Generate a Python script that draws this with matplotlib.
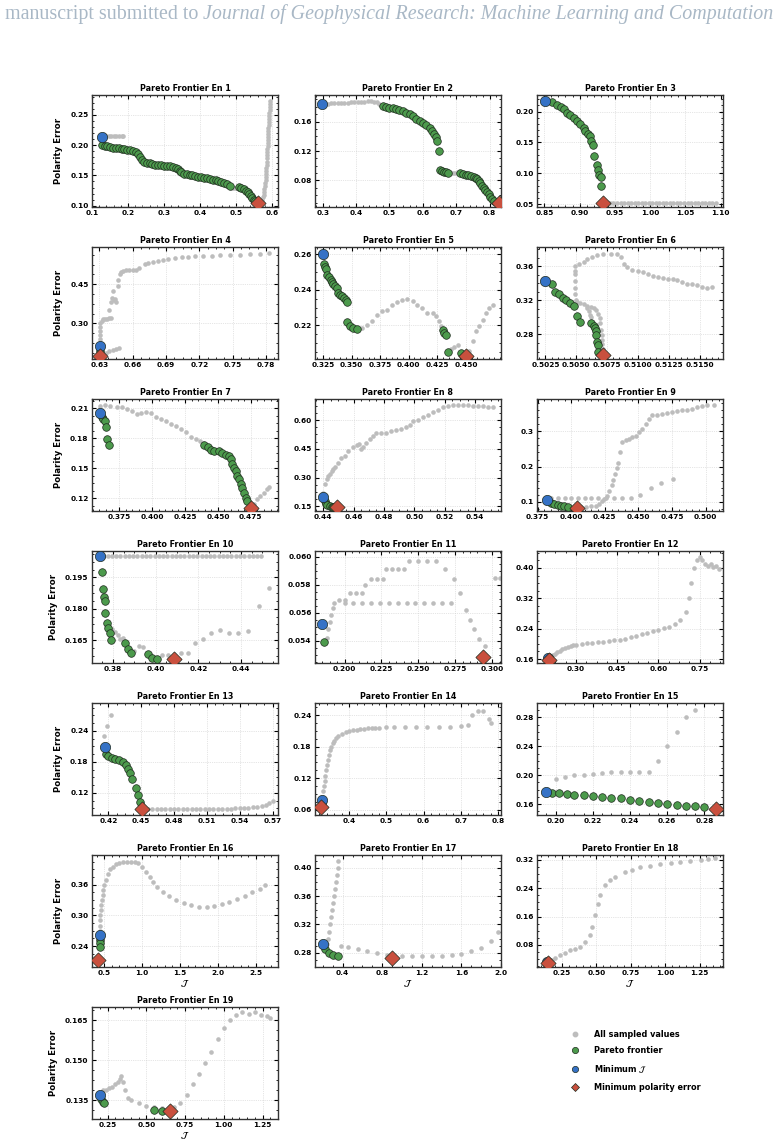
import matplotlib
matplotlib.use("Agg")
import matplotlib.pyplot as plt
from matplotlib.lines import Line2D
from matplotlib.ticker import AutoMinorLocator, ScalarFormatter

# ------------------------------------------------------------------ data
en1_sampled = [(0.140,0.2150),(0.147,0.2148),(0.154,0.2145),(0.161,0.2145),(0.168,0.2148),(0.175,0.2150),(0.182,0.2150),(0.186,0.2148),
               (0.490,0.1300),(0.495,0.1300),(0.500,0.1300),
               (0.566,0.103),(0.570,0.106),(0.573,0.110),(0.575,0.114),(0.577,0.118),(0.578,0.123),(0.579,0.128),(0.580,0.133),
               (0.581,0.138),(0.582,0.143),(0.582,0.148),(0.583,0.153),(0.584,0.158),(0.584,0.163),(0.585,0.168),(0.585,0.173),
               (0.586,0.178),(0.586,0.183),(0.587,0.188),(0.587,0.193),(0.588,0.198),(0.588,0.203),(0.589,0.208),(0.589,0.213),
               (0.590,0.218),(0.590,0.223),(0.590,0.228),(0.591,0.233),(0.591,0.238),(0.592,0.243),(0.592,0.248),(0.592,0.253),
               (0.593,0.258),(0.593,0.263),(0.594,0.268),(0.594,0.273)]
en1_pareto = [(0.128,0.2005),(0.135,0.199),(0.142,0.198),(0.150,0.197),(0.158,0.196),(0.166,0.1955),(0.174,0.195),(0.182,0.194),
              (0.190,0.193),(0.198,0.192),(0.206,0.1915),(0.214,0.191),(0.222,0.189),(0.228,0.185),(0.233,0.180),(0.238,0.176),
              (0.244,0.173),(0.252,0.171),(0.260,0.170),(0.268,0.169),(0.276,0.168),(0.284,0.1675),(0.292,0.167),(0.300,0.166),
              (0.308,0.1655),(0.316,0.165),(0.324,0.164),(0.332,0.163),(0.338,0.161),(0.343,0.158),(0.348,0.155),(0.355,0.153),
              (0.363,0.152),(0.371,0.151),(0.379,0.150),(0.387,0.149),(0.395,0.148),(0.403,0.147),(0.411,0.1455),(0.419,0.145),
              (0.427,0.144),(0.435,0.143),(0.443,0.142),(0.451,0.140),(0.459,0.139),(0.467,0.137),(0.475,0.136),(0.482,0.133),
              (0.508,0.1305),(0.515,0.129),(0.521,0.127),(0.527,0.125),(0.532,0.122),(0.537,0.119),(0.541,0.116),(0.545,0.113),
              (0.549,0.110),(0.553,0.107)]
en1_minJ = (0.127, 0.213)
en1_minPE = (0.561, 0.104)

en2_sampled = [(0.305,0.1838),(0.315,0.1842),(0.325,0.1845),(0.335,0.1848),(0.345,0.185),(0.355,0.1852),(0.365,0.1855),
               (0.375,0.1858),(0.385,0.186),(0.395,0.1862),(0.405,0.1865),(0.415,0.1868),(0.425,0.187),(0.435,0.1872),
               (0.445,0.1872),(0.455,0.187),(0.462,0.186),(0.468,0.1835),(0.474,0.182),
               (0.683,0.0905),(0.690,0.0905),(0.697,0.0905),(0.704,0.0905)]
en2_pareto = [(0.480,0.181),(0.490,0.180),(0.500,0.179),(0.510,0.178),(0.520,0.177),(0.530,0.175),(0.540,0.174),(0.550,0.172),
              (0.560,0.170),(0.570,0.167),(0.580,0.164),(0.590,0.161),(0.600,0.158),(0.610,0.155),(0.620,0.151),(0.628,0.147),
              (0.634,0.143),(0.638,0.139),(0.641,0.134),(0.647,0.120),
              (0.650,0.094),(0.656,0.093),(0.662,0.092),(0.668,0.091),(0.675,0.0895),
              (0.712,0.090),(0.720,0.089),(0.728,0.088),(0.736,0.087),(0.744,0.086),(0.752,0.085),(0.758,0.084),(0.763,0.082),
              (0.767,0.079),(0.772,0.076),(0.777,0.073),(0.782,0.070),(0.787,0.067),(0.792,0.064),(0.797,0.061),(0.802,0.058),
              (0.807,0.055),(0.812,0.052)]
en2_minJ = (0.298, 0.1834)
en2_minPE = (0.827, 0.049)

en3_sampled = [(0.938,0.0520),(0.943,0.0522),(0.948,0.0521),(0.953,0.0523),(0.958,0.0522),(0.963,0.0521),(0.968,0.0523),
               (0.973,0.0522),(0.978,0.0521),(0.983,0.0522),(0.988,0.0523),(0.993,0.0522),(0.998,0.0521),(1.003,0.0522),
               (1.008,0.0523),(1.013,0.0522),(1.018,0.0521),(1.023,0.0522),(1.028,0.0523),(1.033,0.0522),(1.038,0.0521),
               (1.043,0.0522),(1.048,0.0523),(1.053,0.0522),(1.058,0.0521),(1.063,0.0522),(1.068,0.0523),(1.073,0.0522),
               (1.078,0.0521),(1.083,0.0522),(1.088,0.0523),(1.093,0.0522)]
en3_pareto = [(0.861,0.216),(0.868,0.2107),(0.873,0.208),(0.8775,0.2037),(0.882,0.198),(0.887,0.1946),(0.892,0.189),
              (0.896,0.184),(0.901,0.180),(0.906,0.173),(0.908,0.168),(0.912,0.1636),(0.915,0.160),(0.916,0.153),
              (0.919,0.146),(0.921,0.128),(0.924,0.114),(0.926,0.105),(0.928,0.097),(0.930,0.094),(0.931,0.080)]
en3_minJ = (0.851, 0.2177)
en3_minPE = (0.9333, 0.0516)

en4_sampled = [(0.6302,0.225),(0.6302,0.240),(0.6304,0.255),(0.6306,0.270),(0.6308,0.285),(0.6310,0.300),(0.6320,0.310),
               (0.6330,0.317),(0.6350,0.318),(0.6370,0.318),(0.6390,0.319),(0.6405,0.320),
               (0.6385,0.350),(0.6406,0.380),(0.6415,0.399),(0.6436,0.389),(0.6450,0.380),(0.6440,0.393),
               (0.6420,0.425),(0.6466,0.444),(0.6470,0.465),(0.6487,0.488),(0.6496,0.497),(0.6517,0.501),
               (0.6540,0.505),(0.6570,0.505),(0.6600,0.505),(0.6630,0.506),(0.6660,0.510),(0.6707,0.526),(0.6738,0.530),
               (0.6783,0.533),(0.6828,0.537),(0.6873,0.5415),(0.6919,0.5453),(0.6979,0.549),(0.7040,0.553),(0.7100,0.5542),
               (0.7160,0.5568),(0.7236,0.558),(0.7311,0.5593),(0.7387,0.5605),(0.7477,0.562),(0.7568,0.563),(0.7658,0.5644),
               (0.7749,0.567),(0.7830,0.568),
               (0.6330,0.180),(0.6360,0.186),(0.6390,0.193),(0.6420,0.200),(0.6450,0.204),(0.6475,0.206)]
en4_pareto = [(0.6302,0.196)]
en4_minJ = (0.6302, 0.215)
en4_minPE = (0.6306, 0.177)

en5_sampled = [(0.3595,0.2187),(0.3638,0.2202),(0.3682,0.2224),(0.3726,0.2261),(0.3770,0.2280),(0.3814,0.2289),(0.3857,0.2313),
               (0.3901,0.2331),(0.3945,0.2341),(0.3989,0.2348),(0.4033,0.2335),(0.4076,0.2317),(0.4120,0.2298),(0.4164,0.2270),
               (0.4208,0.2270),(0.4237,0.2252),(0.4266,0.2224),(0.4281,0.2196),
               (0.4369,0.2067),(0.4398,0.2076),(0.4427,0.2089),(0.4529,0.2057),(0.4558,0.2113),(0.4587,0.2169),(0.4617,0.2196),
               (0.4646,0.2233),(0.4675,0.2270),(0.4704,0.2298),(0.4734,0.2313)]
en5_pareto = [(0.3259,0.2548),(0.3268,0.2530),(0.3273,0.2515),(0.3288,0.2483),(0.3303,0.2474),(0.3317,0.2456),(0.3326,0.2443),
              (0.3341,0.2433),(0.3355,0.2419),(0.3376,0.2409),(0.3381,0.2385),(0.3399,0.2372),(0.3419,0.2363),(0.3434,0.2354),
              (0.3454,0.2344),(0.3457,0.2330),
              (0.3463,0.2219),(0.3484,0.2196),(0.3516,0.2187),(0.3551,0.2178),
              (0.4296,0.2172),(0.4310,0.2159),(0.4325,0.2146),(0.4345,0.2048),(0.4456,0.2043)]
en5_minJ = (0.3253, 0.2600)
en5_minPE = (0.4500, 0.2026)

en6_sampled = [(0.5049,0.3550),(0.5049,0.3608),(0.5052,0.3627),(0.5056,0.3646),(0.5059,0.3685),(0.5063,0.3712),(0.5067,0.3731),
               (0.5072,0.3742),(0.5078,0.3750),(0.5083,0.3750),(0.5086,0.3704),(0.5089,0.3627),(0.5091,0.3588),(0.5095,0.3558),
               (0.5100,0.3550),(0.5104,0.3531),(0.5108,0.3512),(0.5112,0.3481),(0.5116,0.3473),(0.5120,0.3465),(0.5124,0.3454),
               (0.5128,0.3454),(0.5132,0.3442),(0.5136,0.3415),(0.5140,0.3396),(0.5144,0.3396),(0.5148,0.3377),(0.5152,0.3358),
               (0.5156,0.3350),(0.5160,0.3358),
               (0.5049,0.3512),(0.5049,0.3430),(0.5049,0.3350),(0.5049,0.3270),(0.5050,0.3200),(0.5051,0.3185),(0.5053,0.3173),
               (0.5056,0.3158),(0.5059,0.3135),(0.5062,0.3127),(0.5064,0.3115),(0.5066,0.3088),(0.5068,0.3042),(0.5069,0.2992),
               (0.5069,0.2935),(0.5070,0.2858),(0.5071,0.2788),(0.5071,0.2735),(0.5071,0.2685),(0.5072,0.2627),
               (0.5059,0.3108),(0.5060,0.3070),(0.5061,0.3031),(0.5062,0.3004)]
en6_pareto = [(0.5030,0.3396),(0.5033,0.3304),(0.5036,0.3273),(0.5039,0.3231),(0.5042,0.3204),(0.5045,0.3173),(0.5048,0.3135),
              (0.5051,0.3012),(0.5053,0.2942),(0.5062,0.2935),(0.5064,0.2904),(0.5065,0.2877),(0.5066,0.2838),(0.5066,0.2788),
              (0.5067,0.2712),(0.5068,0.2673),(0.5068,0.2600)]
en6_minJ = (0.5025, 0.3430)
en6_minPE = (0.5072, 0.2562)

en7_sampled = [(0.3607,0.2123),(0.3645,0.2133),(0.3682,0.2123),(0.3732,0.2113),(0.3770,0.2107),(0.3808,0.2090),(0.3845,0.2067),
               (0.3883,0.2040),(0.3920,0.2047),(0.3958,0.2057),(0.3996,0.2047),(0.4033,0.2013),(0.4071,0.1990),(0.4108,0.1967),
               (0.4146,0.1940),(0.4184,0.1923),(0.4221,0.1890),(0.4259,0.1857),(0.4296,0.1813),(0.4334,0.1790),(0.4364,0.1767),
               (0.4384,0.1747),
               (0.4772,0.1140),(0.4797,0.1190),(0.4822,0.1223),(0.4847,0.1257),(0.4872,0.1290),(0.4885,0.1313)]
en7_pareto = [(0.3620,0.2007),(0.3632,0.1990),(0.3645,0.1973),(0.3652,0.1913),(0.3662,0.1790),(0.3675,0.1733),
              (0.4397,0.1730),(0.4422,0.1707),(0.4447,0.1683),(0.4472,0.1667),(0.4509,0.1667),(0.4534,0.1647),(0.4559,0.1633),
              (0.4584,0.1623),(0.4597,0.1590),(0.4609,0.1540),(0.4622,0.1500),(0.4634,0.1467),(0.4647,0.1423),(0.4659,0.1390),
              (0.4672,0.1347),(0.4685,0.1307),(0.4697,0.1257),(0.4710,0.1207),(0.4722,0.1173)]
en7_minJ = (0.3607, 0.2050)
en7_minPE = (0.4752, 0.1107)

en8_sampled = [(0.4400,0.2215),(0.4411,0.265),(0.4422,0.291),(0.4433,0.309),(0.4444,0.321),(0.4455,0.335),(0.4466,0.343),
               (0.4477,0.356),(0.4498,0.378),(0.4520,0.401),(0.4542,0.413),(0.4564,0.440),(0.4597,0.462),(0.4619,0.471),
               (0.4634,0.474),(0.4647,0.450),(0.4662,0.460),(0.4684,0.478),(0.4706,0.500),(0.4728,0.518),(0.4750,0.532),
               (0.4783,0.535),(0.4815,0.535),(0.4848,0.541),(0.4881,0.548),(0.4914,0.556),(0.4946,0.565),(0.4968,0.576),
               (0.4990,0.593),(0.5023,0.600),(0.5055,0.617),(0.5088,0.628),(0.5121,0.640),(0.5153,0.652),(0.5186,0.666),
               (0.5220,0.675),(0.5252,0.680),(0.5285,0.680),(0.5318,0.678),(0.5351,0.677),(0.5383,0.675),(0.5416,0.673),
               (0.5449,0.672),(0.5482,0.670),(0.5514,0.666)]
en8_pareto = [(0.4411,0.178),(0.4417,0.164),(0.4428,0.155),(0.4444,0.150),(0.4455,0.148),(0.4466,0.147),(0.4477,0.147)]
en8_minJ = (0.4400, 0.200)
en8_minPE = (0.4488, 0.1465)

en9_sampled = [(0.3849,0.1095),(0.3899,0.1095),(0.3950,0.1095),(0.4000,0.1095),(0.4050,0.1095),(0.4100,0.1095),(0.4150,0.1095),
               (0.4200,0.1095),(0.4255,0.1095),(0.4319,0.1095),(0.4381,0.1095),(0.4443,0.1095),(0.4512,0.1190),(0.4592,0.1380),
               (0.4671,0.1524),(0.4760,0.1638),
               (0.4072,0.0848),(0.4109,0.0857),(0.4146,0.0867),(0.4183,0.0876),(0.4208,0.0924),(0.4225,0.1019),(0.4245,0.1067),
               (0.4265,0.1162),(0.4282,0.1305),(0.4300,0.1476),(0.4312,0.1610),(0.4324,0.1781),(0.4337,0.1952),(0.4349,0.2114),
               (0.4364,0.2400),(0.4381,0.2686),(0.4406,0.2752),(0.4431,0.2781),(0.4455,0.2829),(0.4480,0.2876),(0.4505,0.2971),
               (0.4530,0.3067),(0.4554,0.3210),(0.4579,0.3352),(0.4604,0.3467),(0.4641,0.3476),(0.4678,0.3495),(0.4715,0.3524),
               (0.4752,0.3562),(0.4790,0.3590),(0.4827,0.3610),(0.4864,0.3619),(0.4901,0.3638),(0.4938,0.3686),(0.4975,0.3733),
               (0.5012,0.3752),(0.5062,0.3762)]
en9_pareto = [(0.3849,0.0970),(0.3874,0.0943),(0.3899,0.0905),(0.3923,0.0886),(0.3948,0.0867),(0.3973,0.0848)]
en9_minJ = (0.3817, 0.1038)
en9_minPE = (0.4040, 0.0829)

en10_sampled = [(0.3756,0.2052),(0.3775,0.2052),(0.3795,0.2052),(0.3815,0.2052),(0.3835,0.2052),(0.3855,0.2052),(0.3875,0.2052),
                (0.3895,0.2052),(0.3915,0.2052),(0.3935,0.2052),(0.3955,0.2052),(0.3975,0.2052),(0.3995,0.2052),(0.4015,0.2052),
                (0.4035,0.2052),(0.4055,0.2052),(0.4075,0.2052),(0.4095,0.2052),(0.4115,0.2052),(0.4135,0.2052),(0.4155,0.2052),
                (0.4175,0.2052),(0.4195,0.2052),(0.4215,0.2052),(0.4235,0.2052),(0.4255,0.2052),(0.4275,0.2052),(0.4295,0.2052),
                (0.4315,0.2052),(0.4335,0.2052),(0.4355,0.2052),(0.4375,0.2052),(0.4395,0.2052),(0.4415,0.2052),(0.4435,0.2052),
                (0.4455,0.2052),(0.4475,0.2052),(0.4494,0.2052),
                (0.3795,0.1702),(0.3811,0.1691),(0.3823,0.1675),(0.3834,0.1656),(0.3847,0.1659),(0.3900,0.1598),(0.3920,0.1622),
                (0.3941,0.1619),(0.4030,0.1579),(0.4056,0.1579),(0.4119,0.1591),(0.4150,0.1591),(0.4186,0.1637),(0.4222,0.1658),
                (0.4259,0.1682),(0.4300,0.1697),(0.4342,0.1686),(0.4386,0.1682),(0.4433,0.1694),(0.4483,0.1814),(0.4530,0.1897)]
en10_pareto = [(0.3748,0.1977),(0.3752,0.1894),(0.3756,0.1857),(0.3761,0.1837),(0.3764,0.1778),(0.3772,0.1734),(0.3777,0.1707),
               (0.3784,0.1683),(0.3792,0.1650),(0.3858,0.1637),(0.3870,0.1610),(0.3886,0.1591),(0.3963,0.1586),(0.3983,0.1566),
               (0.4006,0.1560)]
en10_minJ = (0.3741, 0.2052)
en10_minPE = (0.4088, 0.1560)

en11_sampled = [(0.188,0.0542),(0.189,0.0548),(0.190,0.0553),(0.191,0.0558),(0.192,0.0563),(0.193,0.0567),(0.196,0.0569),
                (0.200,0.0569),(0.204,0.0574),(0.208,0.0574),(0.212,0.0574),(0.214,0.0580),(0.218,0.0584),(0.222,0.0584),
                (0.226,0.0584),(0.228,0.0591),(0.232,0.0591),(0.236,0.0591),(0.240,0.0591),(0.244,0.0597),(0.250,0.0597),
                (0.256,0.0597),(0.262,0.0597),(0.268,0.0591),(0.274,0.0584),(0.278,0.0574),(0.282,0.0562),(0.285,0.0555),
                (0.288,0.0548),(0.291,0.0541),(0.295,0.0536),(0.302,0.0585),(0.305,0.0585),
                (0.200,0.0567),(0.206,0.0567),(0.212,0.0567),(0.218,0.0567),(0.224,0.0567),(0.230,0.0567),(0.236,0.0567),
                (0.242,0.0567),(0.248,0.0567),(0.254,0.0567),(0.260,0.0567),(0.266,0.0567),(0.272,0.0567)]
en11_pareto = [(0.186,0.0539)]
en11_minJ = (0.185, 0.0552)
en11_minPE = (0.294, 0.0528)

en12_sampled = [(0.208,0.165),(0.215,0.170),(0.222,0.174),(0.230,0.178),(0.240,0.182),(0.250,0.186),(0.260,0.189),(0.270,0.192),
                (0.280,0.194),(0.290,0.196),(0.300,0.198),(0.320,0.200),(0.340,0.202),(0.360,0.203),(0.380,0.204),(0.400,0.205),
                (0.420,0.207),(0.440,0.209),(0.460,0.211),(0.480,0.214),(0.500,0.217),(0.520,0.221),(0.540,0.225),(0.560,0.229),
                (0.580,0.233),(0.600,0.237),(0.620,0.241),(0.640,0.245),(0.660,0.252),(0.680,0.262),(0.700,0.285),(0.710,0.320),
                (0.720,0.360),(0.730,0.400),(0.740,0.420),(0.750,0.430),(0.760,0.420),(0.770,0.410),(0.780,0.405),(0.790,0.410),
                (0.800,0.402),(0.810,0.406),(0.820,0.398)]
en12_pareto = [(0.199,0.158)]
en12_minJ = (0.198, 0.162)
en12_minPE = (0.200, 0.157)

en13_sampled = [(0.416,0.23),(0.419,0.25),(0.422,0.27),
                (0.456,0.088),(0.460,0.088),(0.464,0.088),(0.468,0.088),(0.472,0.088),(0.476,0.088),(0.480,0.088),
                (0.484,0.088),(0.488,0.088),(0.492,0.088),(0.496,0.088),(0.500,0.0882),(0.504,0.0885),(0.508,0.0885),
                (0.512,0.0887),(0.516,0.089),(0.520,0.089),(0.524,0.089),(0.528,0.089),(0.532,0.0893),(0.536,0.0897),
                (0.540,0.090),(0.544,0.0905),(0.548,0.091),(0.552,0.092),(0.556,0.093),(0.560,0.095),(0.564,0.097),
                (0.567,0.100),(0.570,0.104)]
en13_pareto = [(0.418,0.196),(0.420,0.191),(0.423,0.188),(0.426,0.186),(0.430,0.183),(0.433,0.179),(0.436,0.173),
               (0.438,0.166),(0.440,0.158),(0.442,0.146),(0.445,0.130),(0.447,0.115),(0.449,0.102)]
en13_minJ = (0.417, 0.209)
en13_minPE = (0.451, 0.088)

en14_sampled = [(0.328,0.085),(0.330,0.095),(0.332,0.105),(0.334,0.115),(0.336,0.125),(0.338,0.135),(0.340,0.145),
                (0.342,0.155),(0.345,0.165),(0.348,0.173),(0.352,0.180),(0.356,0.186),(0.360,0.191),(0.365,0.196),
                (0.370,0.200),(0.380,0.204),(0.390,0.207),(0.400,0.209),(0.410,0.211),(0.420,0.212),(0.430,0.213),
                (0.440,0.214),(0.450,0.215),(0.460,0.215),(0.470,0.216),(0.480,0.216),(0.500,0.217),(0.520,0.217),
                (0.550,0.217),(0.580,0.217),(0.610,0.217),(0.640,0.218),(0.670,0.218),(0.700,0.219),(0.720,0.222),
                (0.730,0.240),(0.745,0.248),(0.760,0.248),(0.775,0.232),(0.780,0.225)]
en14_pareto = [(0.327,0.072)]
en14_minJ = (0.327, 0.078)
en14_minPE = (0.325, 0.066)

en15_sampled = [(0.200,0.195),(0.205,0.198),(0.210,0.200),(0.215,0.201),(0.220,0.202),(0.225,0.203),(0.230,0.204),
                (0.235,0.204),(0.240,0.205),(0.245,0.205),(0.250,0.205),(0.255,0.220),(0.260,0.240),(0.265,0.260),
                (0.270,0.280),(0.275,0.290)]
en15_pareto = [(0.198,0.176),(0.202,0.175),(0.206,0.174),(0.210,0.173),(0.215,0.172),(0.220,0.171),(0.225,0.170),
               (0.230,0.169),(0.235,0.168),(0.240,0.166),(0.245,0.165),(0.250,0.163),(0.255,0.162),(0.260,0.160),
               (0.265,0.159),(0.270,0.158),(0.275,0.157),(0.280,0.156)]
en15_minJ = (0.195, 0.177)
en15_minPE = (0.286, 0.153)

en16_sampled = [(0.44,0.270),(0.44,0.280),(0.445,0.290),(0.45,0.300),(0.455,0.310),(0.46,0.320),(0.47,0.330),(0.48,0.340),
                (0.49,0.350),(0.50,0.360),(0.52,0.370),(0.55,0.380),(0.58,0.390),(0.62,0.395),(0.66,0.400),(0.70,0.402),
                (0.75,0.404),(0.80,0.405),(0.85,0.405),(0.90,0.405),(0.95,0.403),(1.00,0.395),(1.05,0.385),(1.10,0.375),
                (1.15,0.365),(1.20,0.355),(1.27,0.345),(1.35,0.337),(1.45,0.330),(1.55,0.325),(1.65,0.320),(1.75,0.317),
                (1.85,0.316),(1.95,0.318),(2.05,0.322),(2.15,0.327),(2.25,0.332),(2.35,0.338),(2.45,0.345),(2.55,0.352),
                (2.62,0.360)]
en16_pareto = [(0.44,0.252),(0.44,0.245),(0.44,0.238)]
en16_minJ = (0.44, 0.261)
en16_minPE = (0.42, 0.212)

en17_sampled = [(0.24,0.293),(0.25,0.300),(0.26,0.310),(0.27,0.320),(0.28,0.330),(0.29,0.340),(0.30,0.350),(0.31,0.360),
                (0.32,0.370),(0.33,0.380),(0.34,0.390),(0.35,0.400),(0.355,0.410),
                (0.38,0.290),(0.45,0.288),(0.55,0.286),(0.65,0.283),(0.75,0.280),(0.85,0.277),(1.00,0.275),(1.10,0.275),
                (1.20,0.275),(1.30,0.275),(1.40,0.276),(1.50,0.277),(1.60,0.279),(1.70,0.282),(1.80,0.287),(1.90,0.297),
                (1.97,0.310)]
en17_pareto = [(0.22,0.285),(0.26,0.280),(0.30,0.277),(0.35,0.275)]
en17_minJ = (0.20, 0.292)
en17_minPE = (0.90, 0.273)

en18_sampled = [(0.177,0.038),(0.200,0.044),(0.235,0.052),(0.270,0.058),(0.308,0.066),(0.345,0.070),(0.381,0.074),
                (0.420,0.088),(0.454,0.108),(0.470,0.130),(0.490,0.164),(0.510,0.195),(0.527,0.220),(0.563,0.248),
                (0.600,0.262),(0.636,0.271),(0.709,0.285),(0.760,0.292),(0.818,0.299),(0.890,0.303),(0.964,0.307),
                (1.040,0.310),(1.110,0.313),(1.180,0.316),(1.257,0.318),(1.310,0.321),(1.365,0.324)]
en18_pareto = [(0.142,0.031)]
en18_minJ = (0.140, 0.032)
en18_minPE = (0.145, 0.030)

en19_sampled = [(0.22,0.139),(0.24,0.139),(0.26,0.1395),(0.28,0.140),(0.30,0.141),(0.32,0.142),(0.33,0.143),(0.34,0.144),
                (0.35,0.142),(0.36,0.139),(0.38,0.136),(0.40,0.135),(0.45,0.134),(0.50,0.133),(0.55,0.1325),(0.60,0.132),
                (0.68,0.1325),(0.72,0.134),(0.76,0.137),(0.80,0.141),(0.84,0.145),(0.88,0.149),(0.92,0.153),(0.96,0.158),
                (1.00,0.162),(1.04,0.165),(1.08,0.167),(1.12,0.168),(1.16,0.1675),(1.20,0.168),(1.24,0.167),(1.28,0.1665),
                (1.30,0.166)]
en19_pareto = [(0.21,0.1355),(0.22,0.1345),(0.23,0.134),(0.55,0.1315),(0.60,0.131)]
en19_minJ = (0.20, 0.137)
en19_minPE = (0.65, 0.131)

xticks_list = [[0.1,0.2,0.3,0.4,0.5,0.6], [0.3,0.4,0.5,0.6,0.7,0.8], [0.85,0.90,0.95,1.00,1.05,1.10],
               [0.63,0.66,0.69,0.72,0.75,0.78], [0.325,0.350,0.375,0.400,0.425,0.450], [0.5025,0.5050,0.5075,0.5100,0.5125,0.5150],
               [0.375,0.400,0.425,0.450,0.475], [0.44,0.46,0.48,0.50,0.52,0.54], [0.375,0.400,0.425,0.450,0.475,0.500],
               [0.38,0.40,0.42,0.44], [0.200,0.225,0.250,0.275,0.300], [0.30,0.45,0.60,0.75],
               [0.42,0.45,0.48,0.51,0.54,0.57], [0.4,0.5,0.6,0.7,0.8], [0.20,0.22,0.24,0.26,0.28],
               [0.5,1.0,1.5,2.0,2.5], [0.4,0.8,1.2,1.6,2.0], [0.25,0.50,0.75,1.00,1.25], [0.25,0.50,0.75,1.00,1.25]]
yticks_list = [[0.10,0.15,0.20,0.25], [0.08,0.12,0.16], [0.05,0.10,0.15,0.20], [0.30,0.45], [0.22,0.24,0.26],
               [0.28,0.32,0.36], [0.12,0.15,0.18,0.21], [0.15,0.30,0.45,0.60], [0.1,0.2,0.3], [0.165,0.180,0.195],
               [0.054,0.056,0.058,0.060], [0.16,0.24,0.32,0.40], [0.12,0.18,0.24], [0.06,0.12,0.18,0.24],
               [0.16,0.20,0.24,0.28], [0.24,0.30,0.36], [0.28,0.32,0.36,0.40], [0.08,0.16,0.24,0.32], [0.135,0.150,0.165]]

# ------------------------------------------------------------------ layout / limits
limits = [((0.1037,0.6165),(0.0978,0.283)), ((0.277,0.834),(0.044,0.196)), ((0.8396,1.1033),(0.0457,0.2268)),
          ((0.6234,0.7909),(0.164,0.592)), ((0.318,0.4807),(0.2011,0.2641)), ((0.50182,0.51689),(0.2512,0.3827)),
          ((0.3545,0.4956),(0.1073,0.219)), ((0.4346,0.5569),(0.1256,0.71)), ((0.3745,0.5129),(0.0733,0.3924)),
          ((0.3702,0.4573),(0.1541,0.2076)), ((0.180,0.306),(0.0524,0.0604)), ((0.158,0.835),(0.1495,0.4446)),
          ((0.405,0.575),(0.077,0.294)), ((0.308,0.808),(0.05,0.263)), ((0.19,0.29),(0.145,0.30)),
          ((0.34,2.79),(0.199,0.418)), ((0.12,2.00),(0.26,0.418)), ((0.068,1.42),(0.018,0.333)), ((0.15,1.35),(0.128,0.170))]

panels = [
    (en1_sampled, en1_pareto, en1_minJ, en1_minPE), (en2_sampled, en2_pareto, en2_minJ, en2_minPE),
    (en3_sampled, en3_pareto, en3_minJ, en3_minPE), (en4_sampled, en4_pareto, en4_minJ, en4_minPE),
    (en5_sampled, en5_pareto, en5_minJ, en5_minPE), (en6_sampled, en6_pareto, en6_minJ, en6_minPE),
    (en7_sampled, en7_pareto, en7_minJ, en7_minPE), (en8_sampled, en8_pareto, en8_minJ, en8_minPE),
    (en9_sampled, en9_pareto, en9_minJ, en9_minPE), (en10_sampled, en10_pareto, en10_minJ, en10_minPE),
    (en11_sampled, en11_pareto, en11_minJ, en11_minPE), (en12_sampled, en12_pareto, en12_minJ, en12_minPE),
    (en13_sampled, en13_pareto, en13_minJ, en13_minPE), (en14_sampled, en14_pareto, en14_minJ, en14_minPE),
    (en15_sampled, en15_pareto, en15_minJ, en15_minPE), (en16_sampled, en16_pareto, en16_minJ, en16_minPE),
    (en17_sampled, en17_pareto, en17_minJ, en17_minPE), (en18_sampled, en18_pareto, en18_minJ, en18_minPE),
    (en19_sampled, en19_pareto, en19_minJ, en19_minPE)]

GRAY = "#bdbdbd"
GREEN = "#4c9a4c"
BLUE = "#3572c6"
RED = "#c9503e"
EDGE = "#1e2a1e"

W, H = 783, 1145
fig = plt.figure(figsize=(W / 100, H / 100), dpi=100)

col_left = [92, 315, 537]
row_top = [95, 247, 399, 551, 703, 855, 1007]
AW, AH = 186, 112

def add_ax(r, c):
    l = col_left[c] / W
    b = 1 - (row_top[r] + AH) / H
    return fig.add_axes([l, b, AW / W, AH / H])

for i, (samp, par, mj, mp) in enumerate(panels):
    r, c = divmod(i, 3)
    ax = add_ax(r, c)
    ax.scatter([p[0] for p in samp], [p[1] for p in samp], s=11, color=GRAY, lw=0, zorder=2)
    ax.scatter([p[0] for p in par], [p[1] for p in par], s=30, color=GREEN, edgecolor=EDGE, lw=0.5, zorder=3)
    ax.scatter([mj[0]], [mj[1]], s=55, color=BLUE, edgecolor=EDGE, lw=0.5, zorder=4)
    ax.scatter([mp[0]], [mp[1]], s=60, marker="D", color=RED, edgecolor=EDGE, lw=0.5, zorder=5)
    (x0, x1), (y0, y1) = limits[i]
    ax.set_xlim(x0, x1)
    ax.set_ylim(y0, y1)
    ax.set_xticks(xticks_list[i])
    ax.set_yticks(yticks_list[i])
    for axis in (ax.xaxis, ax.yaxis):
        axis.set_major_formatter(ScalarFormatter(useOffset=False))
    ax.xaxis.set_minor_locator(AutoMinorLocator())
    ax.yaxis.set_minor_locator(AutoMinorLocator())
    ax.tick_params(which="both", direction="in", top=True, right=True, labelsize=5.3, pad=2.5)
    ax.tick_params(which="major", length=3, width=0.8)
    ax.tick_params(which="minor", length=1.6, width=0.6)
    for lab in ax.get_xticklabels() + ax.get_yticklabels():
        lab.set_fontweight("bold")
    for sp in ax.spines.values():
        sp.set_linewidth(1.0)
        sp.set_color("#333333")
    ax.grid(True, which="major", ls=":", lw=0.5, color="#cccccc", zorder=0)
    ax.set_axisbelow(True)
    ax.set_title(f"Pareto Frontier En {i + 1}", fontsize=5.8, fontweight="bold", pad=3)
    if c == 0:
        ax.set_ylabel("Polarity Error", fontsize=6.2, fontweight="bold", labelpad=5)
    if i >= 15:
        ax.set_xlabel(r"$\mathcal{J}$", fontsize=6.8, labelpad=1)

# legend
lax = add_ax(6, 2)
lax.axis("off")
handles = [
    Line2D([], [], ls="none", marker="o", ms=3.2, mfc=GRAY, mec=GRAY, label="All sampled values"),
    Line2D([], [], ls="none", marker="o", ms=4.5, mfc=GREEN, mec=EDGE, mew=0.5, label="Pareto frontier"),
    Line2D([], [], ls="none", marker="o", ms=4.5, mfc=BLUE, mec=EDGE, mew=0.5, label=r"Minimum $\mathcal{J}$"),
    Line2D([], [], ls="none", marker="D", ms=4.2, mfc=RED, mec=EDGE, mew=0.5, label="Minimum polarity error"),
]
leg = lax.legend(handles=handles, loc="center left", bbox_to_anchor=(0.12, 0.52), frameon=False,
                 prop={"size": 5.9, "weight": "bold"}, handletextpad=1.3, labelspacing=0.95)

# header
hc = "#a9b8c6"
t1 = fig.text(5 / W, 1 - 19 / H, "manuscript submitted to ", fontsize=14.4, family="Liberation Serif",
              color=hc, va="baseline")
fig.canvas.draw()
bb = t1.get_window_extent()
fig.text(bb.x1 / W, 1 - 19 / H, "Journal of Geophysical Research: Machine Learning and Computation",
         fontsize=14.4, family="Liberation Serif", style="italic", color=hc, va="baseline")

fig.savefig("out.png", dpi=100)
